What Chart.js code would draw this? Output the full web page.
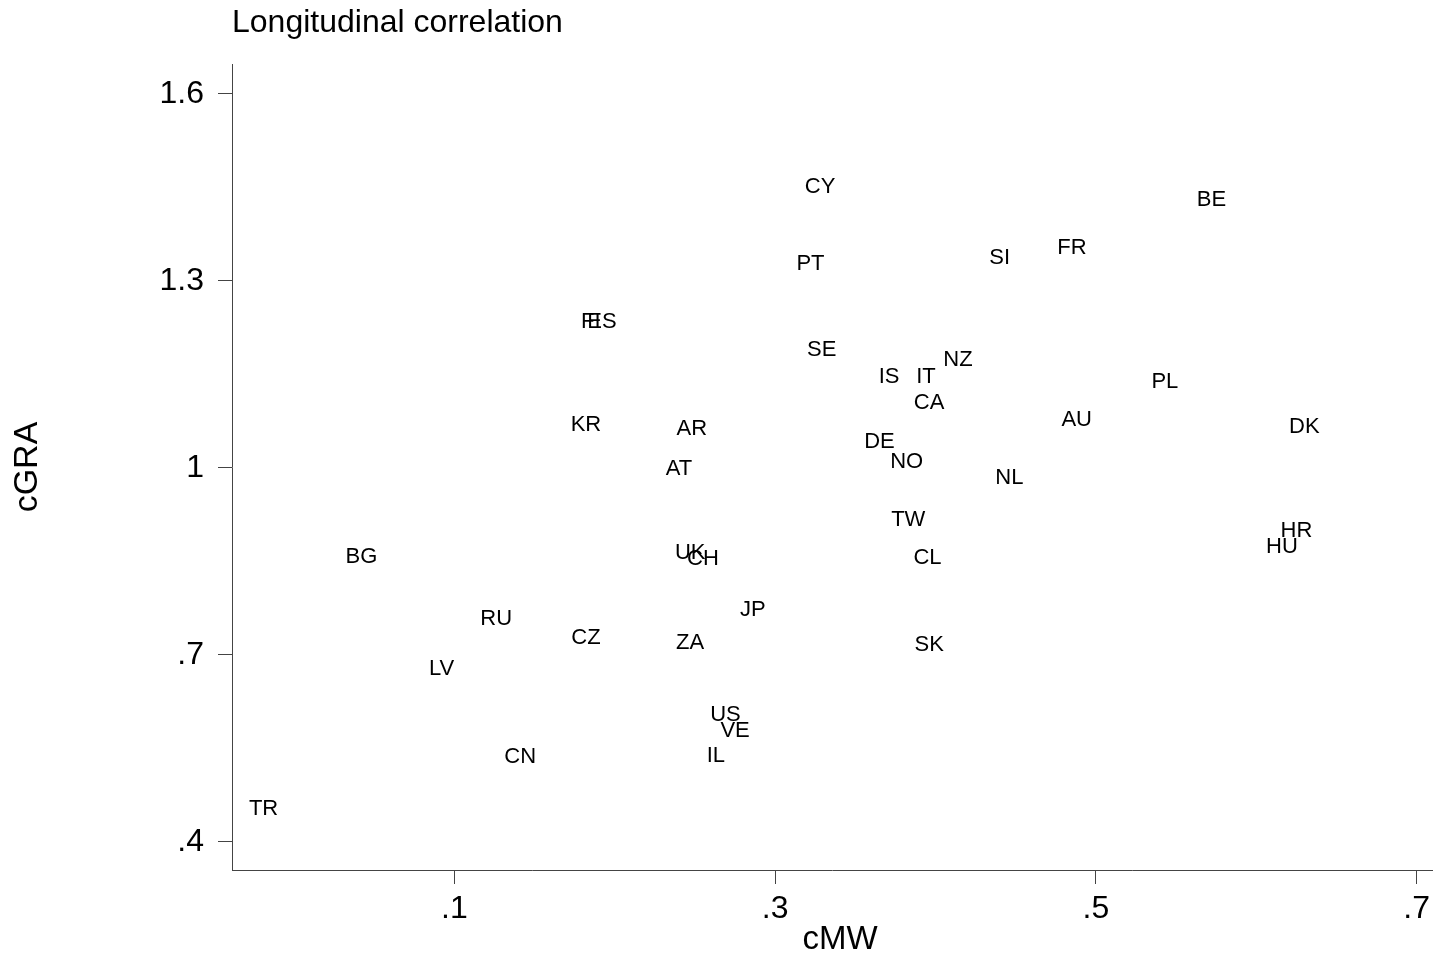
<!DOCTYPE html>
<html>
<head>
<meta charset="utf-8">
<script src="https://cdn.jsdelivr.net/npm/chart.js@4.4.1/dist/chart.umd.min.js"></script>
<style>
html,body{margin:0;padding:0;background:#fff;}
#wrap{position:relative;width:1436px;height:956px;}
</style>
</head>
<body>
<div id="wrap"><canvas id="c" width="1436" height="956"></canvas></div>
<script>
const countries = ["CY","BE","FR","SI","PT","FI","ES","SE","NZ","IS","IT","PL","CA","KR","AU","AR","DK","DE","NO","AT","NL","TW","HR","HU","BG","UK","CH","CL","JP","RU","CZ","ZA","SK","LV","US","VE","CN","IL","TR"];
const cMW = [0.328,0.572,0.485,0.440,0.322,0.185,0.192,0.329,0.414,0.371,0.394,0.543,0.396,0.182,0.488,0.248,0.630,0.365,0.382,0.240,0.446,0.383,0.625,0.616,0.042,0.247,0.255,0.395,0.286,0.126,0.182,0.247,0.396,0.092,0.269,0.275,0.141,0.263,-0.019];
const cGRA = [1.450,1.430,1.353,1.337,1.328,1.235,1.235,1.189,1.174,1.146,1.146,1.138,1.104,1.069,1.077,1.062,1.065,1.041,1.009,0.998,0.984,0.916,0.899,0.874,0.857,0.863,0.854,0.855,0.772,0.757,0.728,0.720,0.716,0.677,0.603,0.578,0.536,0.538,0.453];
const xTicks = [0.1,0.3,0.5,0.7];
const yTicks = [0.4,0.7,1.0,1.3,1.6];
const xTickLabels = [".1",".3",".5",".7"];
const yTickLabels = [".4",".7","1","1.3","1.6"];
const titleText = "Longitudinal correlation";
const xTitle = "cMW";
const yTitle = "cGRA";

const FONT = "'Liberation Sans', Arial, sans-serif";
const points = cMW.map((x,i)=>({x:x,y:cGRA[i]}));

const labelPlugin = {
  id:'labels',
  afterDatasetsDraw(chart){
    const ctx = chart.ctx;
    const xs = chart.scales.x, ys = chart.scales.y;
    ctx.save();
    ctx.font = "22px " + FONT;
    ctx.fillStyle = "#000";
    ctx.textAlign = "center";
    ctx.textBaseline = "middle";
    countries.forEach((c,i)=>{
      ctx.fillText(c, xs.getPixelForValue(cMW[i]), ys.getPixelForValue(cGRA[i]));
    });
    ctx.restore();
  },
  afterDraw(chart){
    const ctx = chart.ctx;
    const ca = chart.chartArea;
    ctx.save();
    ctx.fillStyle = "#000";
    ctx.font = "32px " + FONT;
    ctx.textAlign = "left";
    ctx.textBaseline = "alphabetic";
    ctx.fillText(titleText, ca.left, 32);
    // x axis title
    ctx.font = "33px " + FONT;
    ctx.textAlign = "center";
    ctx.textBaseline = "middle";
    ctx.fillText(xTitle, 840, 940);
    // y axis title
    ctx.font = "34px " + FONT;
    ctx.translate(28, 467);
    ctx.rotate(-Math.PI/2);
    ctx.fillText(yTitle, 0, 0);
    ctx.restore();
  }
};

new Chart(document.getElementById('c'), {
  type:'scatter',
  data:{datasets:[{data:points,pointRadius:0,pointHoverRadius:0,showLine:false}]},
  options:{
    responsive:false,
    animation:false,
    events:[],
    layout:{padding:{top:64,right:0,left:0,bottom:0}},
    plugins:{legend:{display:false},tooltip:{enabled:false},title:{display:false}},
    scales:{
      x:{
        type:'linear', min:-0.0387, max:0.7097,
        afterBuildTicks(s){ s.ticks = xTicks.map(v=>({value:v})); },
        afterFit(s){ s.height = 86; },
        grid:{drawOnChartArea:false, drawTicks:true, tickLength:14, color:'#444', lineWidth:1},
        border:{display:true, color:'#444', width:1},
        ticks:{color:'#000', font:{family:FONT,size:32}, padding:6, maxRotation:0,
          callback(v){ const i = xTicks.findIndex(t=>Math.abs(t-v)<1e-9); return i>=0?xTickLabels[i]:''; }},
        title:{display:false, text:xTitle}
      },
      y:{
        type:'linear', min:0.355, max:1.648,
        afterBuildTicks(s){ s.ticks = yTicks.map(v=>({value:v})); },
        afterFit(s){ s.width = 232; },
        grid:{drawOnChartArea:false, drawTicks:true, tickLength:14, color:'#444', lineWidth:1},
        border:{display:true, color:'#444', width:1},
        ticks:{color:'#000', font:{family:FONT,size:32}, padding:14,
          callback(v){ const i = yTicks.findIndex(t=>Math.abs(t-v)<1e-9); return i>=0?yTickLabels[i]:''; }},
        title:{display:false, text:yTitle}
      }
    }
  },
  plugins:[labelPlugin]
});
</script>
</body>
</html>
